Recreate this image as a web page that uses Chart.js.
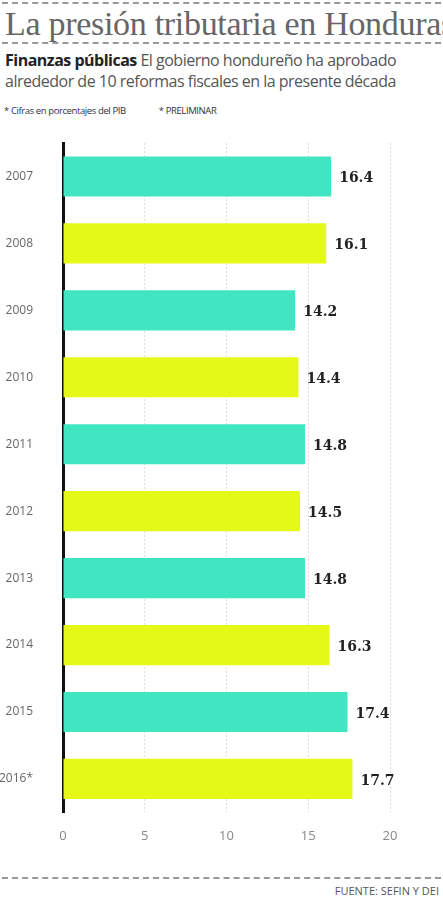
<!DOCTYPE html>
<html>
<head>
<meta charset="utf-8">
<script src="https://cdn.jsdelivr.net/npm/chart.js@4"></script>
<style>
  body { margin: 0; background: #fff; width: 443px; height: 900px; position: relative; overflow: hidden; font-family: "Open Sans", sans-serif; }
  .dash { position: absolute; left: 2px; right: 2px; border-top: 2px dashed #999; }
  #title { position: absolute; top: 5px; left: 5px; font-family: "Liberation Serif", serif; font-size: 34px; color: #666; letter-spacing: -0.3px; white-space: nowrap; }
  #sub { position: absolute; top: 50px; left: 5px; font-size: 16px; line-height: 21px; color: #555; letter-spacing: -0.5px; white-space: nowrap; }
  #sub b { color: #222; }
  #notes { position: absolute; top: 104px; left: 4px; font-size: 9.5px; color: #333; letter-spacing: -0.4px; }
  #src { position: absolute; top: 883px; right: 4px; font-size: 11px; color: #555; }
  #wrap { position: absolute; top: 0; left: 0; width: 443px; height: 900px; }
</style>
</head>
<body>
<div class="dash" style="top:2px"></div>
<div class="dash" style="top:42px"></div>
<div id="title">La presión tributaria en Honduras</div>
<div id="sub"><b>Finanzas públicas</b> El gobierno hondureño ha aprobado<br>alrededor de 10 reformas fiscales en la presente década</div>
<div id="notes">* Cifras en porcentajes del PIB &nbsp;&nbsp;&nbsp;&nbsp;&nbsp;&nbsp;&nbsp;&nbsp;&nbsp;&nbsp;&nbsp;&nbsp;&nbsp;&nbsp;&nbsp;* PRELIMINAR</div>
<div class="dash" style="top:877px"></div>
<div id="src">FUENTE: SEFIN Y DEI</div>
<div id="wrap"><canvas id="c"></canvas></div>
<script>
const years = ["2007", "2008", "2009", "2010", "2011", "2012", "2013", "2014", "2015", "2016*"];
const values = [16.4, 16.1, 14.2, 14.4, 14.8, 14.5, 14.8, 16.3, 17.4, 17.7];
const valueLabels = ["16.4", "16.1", "14.2", "14.4", "14.8", "14.5", "14.8", "16.3", "17.4", "17.7"];
const xTicks = [0, 5, 10, 15, 20];

const teal = "#40e6c2";
const yellow = "#e4f918";

const valueLabelPlugin = {
    id: "valueLabels",
    afterDatasetsDraw(chart) {
        const ctx = chart.ctx;
        const meta = chart.getDatasetMeta(0);
        ctx.save();
        ctx.font = "bold 14px 'DejaVu Serif', serif";
        ctx.fillStyle = "#222";
        ctx.textBaseline = "middle";
        meta.data.forEach((bar, i) => {
            ctx.fillText(valueLabels[i], bar.x + 8, bar.y + 2);
        });
        ctx.restore();
    }
};

new Chart(document.getElementById("c"), {
    type: "bar",
    data: {
        labels: years,
        datasets: [{
            data: values,
            backgroundColor: years.map((y, i) => i % 2 === 0 ? teal : yellow),
            categoryPercentage: 1,
            barPercentage: 0.6
        }]
    },
    options: {
        indexAxis: "y",
        responsive: true,
        maintainAspectRatio: false,
        animation: false,
        layout: { padding: { top: 143, bottom: 40, right: 53, left: 0 } },
        plugins: { legend: { display: false }, tooltip: { enabled: false } },
        scales: {
            x: {
                min: 0, max: 20,
                afterBuildTicks: s => { s.ticks = xTicks.map(v => ({ value: v })); },
                grid: {
                    color: c => c.tick && c.tick.value === 0 ? "rgba(0,0,0,0)" : "#ddd",
                    drawTicks: false
                },
                border: { display: false, dash: [2, 2] },
                ticks: { color: "#888", font: { size: 13, family: "Open Sans" }, padding: 16 }
            },
            y: {
                afterFit: s => { s.width = 63; },
                grid: { display: false },
                border: { color: "#111", width: 3 },
                ticks: { color: "#666", font: { size: 12, family: "Open Sans" }, padding: 22 }
            }
        }
    },
    plugins: [valueLabelPlugin]
});
</script>
</body>
</html>
